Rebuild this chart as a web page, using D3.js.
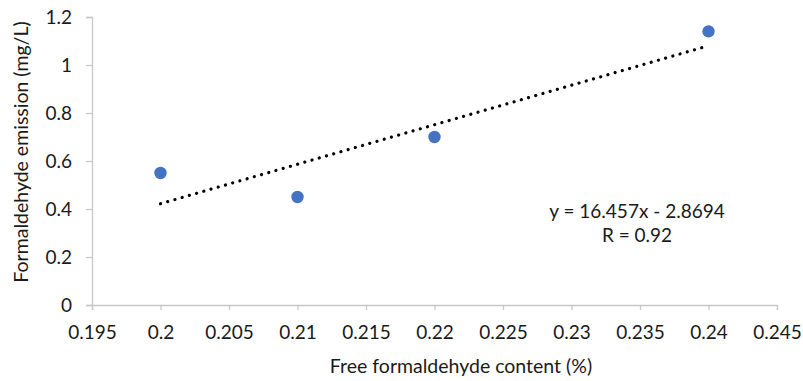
<!DOCTYPE html>
<html><head><meta charset="utf-8">
<script src="https://cdn.jsdelivr.net/npm/d3@7"></script>
<style>body{margin:0;background:#fff}</style>
</head><body>
<script>
const xValues = [0.20, 0.21, 0.22, 0.24];
const yValues = [0.55, 0.45, 0.70, 1.14];
const xTicks = [0.195, 0.2, 0.205, 0.21, 0.215, 0.22, 0.225, 0.23, 0.235, 0.24, 0.245];
const yTicks = [0, 0.2, 0.4, 0.6, 0.8, 1, 1.2];
const slope = 16.457, intercept = -2.8694;
const trendX = [0.20, 0.24];
const eqText = ["y = 16.457x - 2.8694", "R = 0.92"];
const xTitle = "Free formaldehyde content (%)";
const yTitle = "Formaldehyde emission (mg/L)";

const W = 803, H = 381;
const m = {l: 92, r: 26, t: 17, b: 76};
const font = "Lato, 'Open Sans', sans-serif";
const svg = d3.select("body").append("svg").attr("width", W).attr("height", H);
const x = d3.scaleLinear().domain([0.195, 0.245]).range([m.l, W - m.r]);
const y = d3.scaleLinear().domain([0, 1.2]).range([H - m.b, m.t]);

const xa = svg.append("g").attr("transform", `translate(0,${H - m.b})`)
  .call(d3.axisBottom(x).tickValues(xTicks).tickFormat(d => String(+d.toFixed(3))).tickSizeOuter(0).tickSize(5).tickPadding(16));
const ya = svg.append("g").attr("transform", `translate(${m.l},0)`)
  .call(d3.axisLeft(y).tickValues(yTicks).tickFormat(d => String(+d.toFixed(1))).tickSizeOuter(0).tickSize(6).tickPadding(14));
[xa, ya].forEach(g => {
  g.select(".domain").attr("stroke", "#c8c8c8").attr("stroke-width", 1.3);
  g.selectAll(".tick line").attr("stroke", "#c8c8c8").attr("stroke-width", 1.3);
  g.selectAll("text").attr("font-family", font).attr("font-size", 19).attr("fill", "#1a1a1a");
});

svg.append("line")
  .attr("x1", x(trendX[0])).attr("y1", y(slope * trendX[0] + intercept))
  .attr("x2", x(trendX[1])).attr("y2", y(slope * trendX[1] + intercept))
  .attr("stroke", "#000").attr("stroke-width", 3.2)
  .attr("stroke-linecap", "round").attr("stroke-dasharray", "0.01 7.5");

svg.selectAll("circle.pt").data(xValues.map((v, i) => [v, yValues[i]])).enter()
  .append("circle").attr("class", "pt")
  .attr("cx", d => x(d[0])).attr("cy", d => y(d[1])).attr("r", 6.2)
  .attr("fill", "#4472C4");

svg.append("g").selectAll("text").data(eqText).enter().append("text")
  .attr("x", 637).attr("y", (d, i) => 218 + i * 24)
  .attr("text-anchor", "middle").attr("font-family", font).attr("font-size", 19)
  .attr("fill", "#1a1a1a").text(d => d);

svg.append("text").attr("x", 461).attr("y", 373).attr("text-anchor", "middle")
  .attr("font-family", font).attr("font-size", 19.5).attr("fill", "#1a1a1a").text(xTitle);
svg.append("text").attr("transform", `translate(28,${152}) rotate(-90)`).attr("text-anchor", "middle")
  .attr("font-family", font).attr("font-size", 19.5).attr("fill", "#1a1a1a").text(yTitle);
</script>
</body></html>
